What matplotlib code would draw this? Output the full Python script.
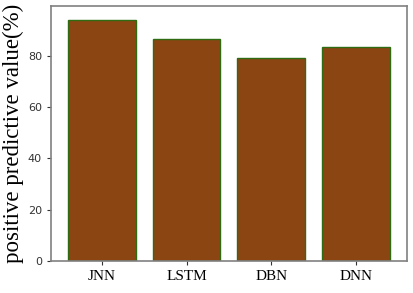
import matplotlib
matplotlib.use('Agg')
import matplotlib.pyplot as plt

# model names and their positive predictive value (%)
models = ['JNN', 'LSTM', 'DBN', 'DNN']
ppv = [94.0, 86.4, 79.2, 83.2]

fig = plt.figure(figsize=(4.14, 2.93), dpi=100)
ax = fig.add_axes([0.123, 0.109, 0.86, 0.871])

ax.bar(models, ppv, width=0.8, color='#8B4513', edgecolor='#2f6b12', linewidth=1.0)

ax.set_xlim(-0.6, 3.6)
ax.set_ylim(0, 99.4)
ax.set_yticks([0, 20, 40, 60, 80])

ax.set_ylabel('positive predictive value(%)', family='Liberation Serif', fontsize=16.5, labelpad=3)

for lab in ax.get_xticklabels():
    lab.set_family('Liberation Serif')
    lab.set_fontsize(11)
for lab in ax.get_yticklabels():
    lab.set_fontsize(8)

for sp in ax.spines.values():
    sp.set_color('#808080')
    sp.set_linewidth(1.2)
ax.tick_params(colors='#333333', length=3)
ax.tick_params(axis='x', labelcolor='black')

fig.savefig('out.png', dpi=100)
